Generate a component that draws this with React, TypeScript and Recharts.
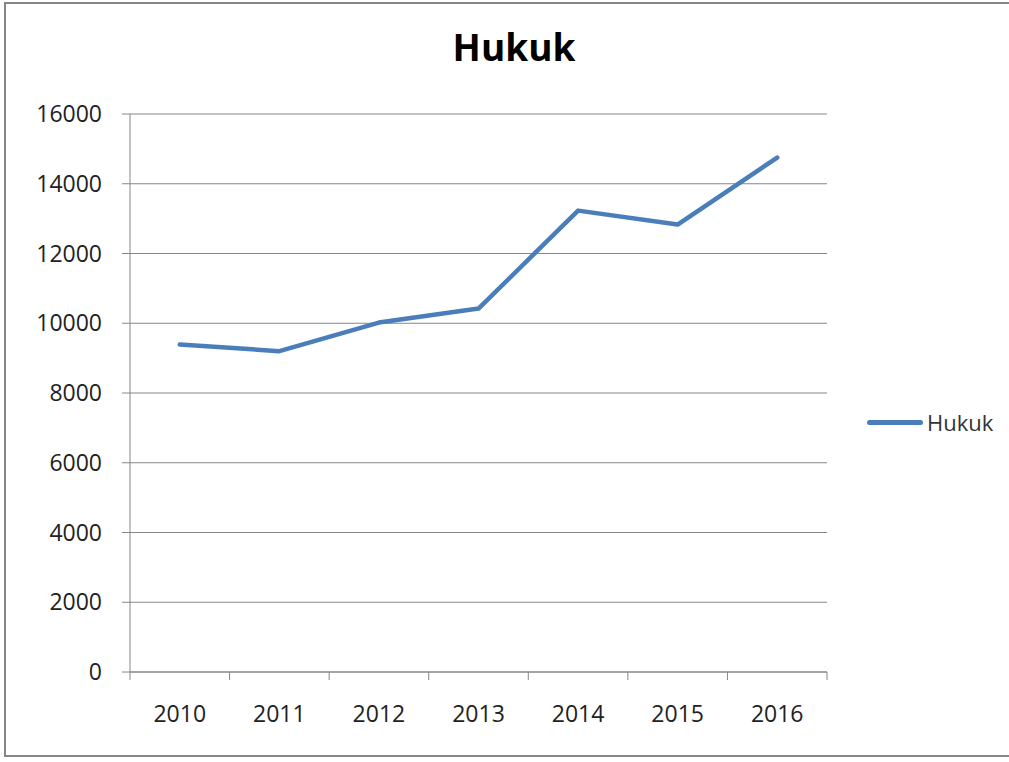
import React from "react";
import { LineChart, Line, XAxis, YAxis, CartesianGrid } from "recharts";

const title = "Hukuk";
const categories = ["2010", "2011", "2012", "2013", "2014", "2015", "2016"];
const hukukValues = [9390, 9200, 10020, 10420, 13230, 12830, 14750];
const yTicks = [0, 2000, 4000, 6000, 8000, 10000, 12000, 14000, 16000];

const data = categories.map((year, i) => ({ year, Hukuk: hukukValues[i] }));

const FONT = "'Open Sans', sans-serif";
const BLUE = "#4A7EBB";
const GRAY = "#868686";

const CHART_W = 1009;
const CHART_H = 762;
const MARGIN = { top: 114, right: 182, bottom: 0, left: 0 };
const Y_W = 130;
const X_H = 90;
const PLOT_W = CHART_W - MARGIN.left - MARGIN.right - Y_W;
const TICK_MARGIN = 34;
const EDGE_TICK = 8;

const XTick = (props: any) => {
  const { x, y, payload, index } = props;
  const half = PLOT_W / categories.length / 2;
  const axisY = y - TICK_MARGIN;
  const isLast = index === categories.length - 1;
  return (
    <g>
      <line x1={x - half} x2={x - half} y1={axisY} y2={axisY + EDGE_TICK} stroke={GRAY} />
      {isLast && <line x1={x + half} x2={x + half} y1={axisY} y2={axisY + EDGE_TICK} stroke={GRAY} />}
      <text x={x} y={y} dy="0.71em" textAnchor="middle" fontFamily={FONT} fontSize={23} fill="#222">
        {payload.value}
      </text>
    </g>
  );
};

export default function App() {
  return (
    <div style={{ position: "absolute", left: 0, top: 0, width: CHART_W, height: CHART_H, overflow: "hidden", background: "#fff" }}>
      <div
        style={{
          position: "absolute",
          left: 4,
          top: 2,
          width: 1020,
          height: 755,
          border: `2px solid ${GRAY}`,
          boxSizing: "border-box",
        }}
      />
      <div
        style={{
          position: "absolute",
          left: 0,
          width: 1028,
          top: 22,
          textAlign: "center",
          fontFamily: FONT,
          fontWeight: 700,
          fontSize: 37,
          color: "#000",
          lineHeight: "50px",
        }}
      >
        {title}
      </div>
      <div
        style={{
          position: "absolute",
          left: 867,
          top: 406,
          display: "flex",
          alignItems: "center",
          fontFamily: FONT,
          fontSize: 22,
          color: "#333",
          lineHeight: "32px",
        }}
      >
        <div style={{ width: 56, height: 5, background: BLUE, borderRadius: 3, marginRight: 4 }} />
        <span>{title}</span>
      </div>
      <div style={{ position: "absolute", left: 0, top: 0 }}>
        <LineChart width={CHART_W} height={CHART_H} data={data} margin={MARGIN}>
          <CartesianGrid vertical={false} stroke={GRAY} strokeWidth={1} />
          <XAxis
            dataKey="year"
            scale="band"
            height={X_H}
            tickLine={false}
            axisLine={{ stroke: GRAY }}
            tickSize={0}
            tickMargin={TICK_MARGIN}
            tick={<XTick />}
            interval={0}
          />
          <YAxis
            width={Y_W}
            domain={[0, 16000]}
            ticks={yTicks}
            interval={0}
            axisLine={{ stroke: GRAY }}
            tickLine={{ stroke: GRAY }}
            tickSize={8}
            tickMargin={20}
            tick={{ fontFamily: FONT, fontSize: 23, fill: "#222" }}
          />
          <Line
            type="linear"
            dataKey="Hukuk"
            stroke={BLUE}
            strokeWidth={4.5}
            dot={false}
            activeDot={false}
            isAnimationActive={false}
            strokeLinejoin="round"
            strokeLinecap="round"
          />
        </LineChart>
      </div>
    </div>
  );
}
